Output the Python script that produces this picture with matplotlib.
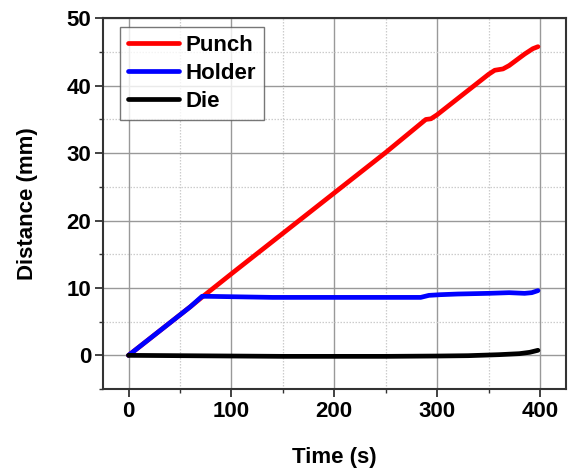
import matplotlib
matplotlib.use("Agg")
import matplotlib.pyplot as plt
from matplotlib.ticker import MultipleLocator

plt.rcParams['font.family'] = ['Liberation Sans', 'DejaVu Sans']
plt.rcParams['font.weight'] = 'bold'

# Data
punch_t = [0, 20, 40, 60, 72, 100, 150, 200, 250, 285, 289, 294, 300, 330, 350, 356, 364, 370, 385, 393, 398]
punch_d = [0, 2.4, 4.8, 7.2, 8.7, 12.1, 18.1, 24.1, 30.1, 34.5, 35.0, 35.1, 35.7, 39.3, 41.7, 42.3, 42.5, 43.0, 44.7, 45.5, 45.8]

holder_t = [0, 20, 40, 60, 71.5, 80, 100, 120, 140, 180, 220, 260, 284, 292, 303, 320, 350, 370, 385, 392, 398]
holder_d = [0, 2.4, 4.8, 7.2, 8.76, 8.75, 8.7, 8.65, 8.6, 8.6, 8.6, 8.6, 8.6, 8.9, 9.0, 9.1, 9.2, 9.3, 9.2, 9.3, 9.6]

die_t = [0, 50, 100, 150, 200, 250, 300, 330, 360, 380, 390, 398]
die_d = [0, -0.05, -0.1, -0.15, -0.15, -0.15, -0.1, -0.05, 0.1, 0.25, 0.45, 0.75]

series_names = ['Punch', 'Holder', 'Die']
series_colors = ['#ff0000', '#0000ff', '#000000']

fig = plt.figure(figsize=(5.68, 4.71), dpi=100)
ax = fig.add_axes([0.181, 0.174, 0.815, 0.787])

for t, d, name, c in zip([punch_t, holder_t, die_t], [punch_d, holder_d, die_d],
                         series_names, series_colors):
    ax.plot(t, d, color=c, lw=3.4, label=name, solid_capstyle='round', zorder=3)

ax.set_xlim(-25, 425)
ax.set_ylim(-5, 50)
ax.xaxis.set_major_locator(MultipleLocator(100))
ax.xaxis.set_minor_locator(MultipleLocator(50))
ax.yaxis.set_major_locator(MultipleLocator(10))
ax.yaxis.set_minor_locator(MultipleLocator(5))

ax.grid(which='major', color='#999999', lw=1.0, ls='-')
ax.grid(which='minor', color='#cccccc', lw=0.9, ls=(0, (1.2, 1.2)))
ax.set_axisbelow(True)

for s in ax.spines.values():
    s.set_linewidth(1.5)
    s.set_color('#333333')

ax.tick_params(which='major', direction='out', length=5.5, width=1.3, labelsize=16,
               color='#333333', pad=3)
ax.tick_params(which='minor', direction='out', length=3, width=1.0, color='#333333')
for lab in ax.get_xticklabels() + ax.get_yticklabels():
    lab.set_fontweight('bold')

ax.set_xlabel('Time (s)', fontsize=16, fontweight='bold', labelpad=18)
ax.set_ylabel('Distance (mm)', fontsize=16, fontweight='bold', labelpad=20)

leg = ax.legend(loc='upper left', bbox_to_anchor=(0.038, 0.977), fontsize=16,
                frameon=True, fancybox=False, edgecolor='#555555', handlelength=2.3,
                handletextpad=0.3, borderpad=0.35, labelspacing=0.32, borderaxespad=0)
leg.get_frame().set_linewidth(1.0)
for txt in leg.get_texts():
    txt.set_fontweight('bold')

fig.savefig('out.png', dpi=100)
